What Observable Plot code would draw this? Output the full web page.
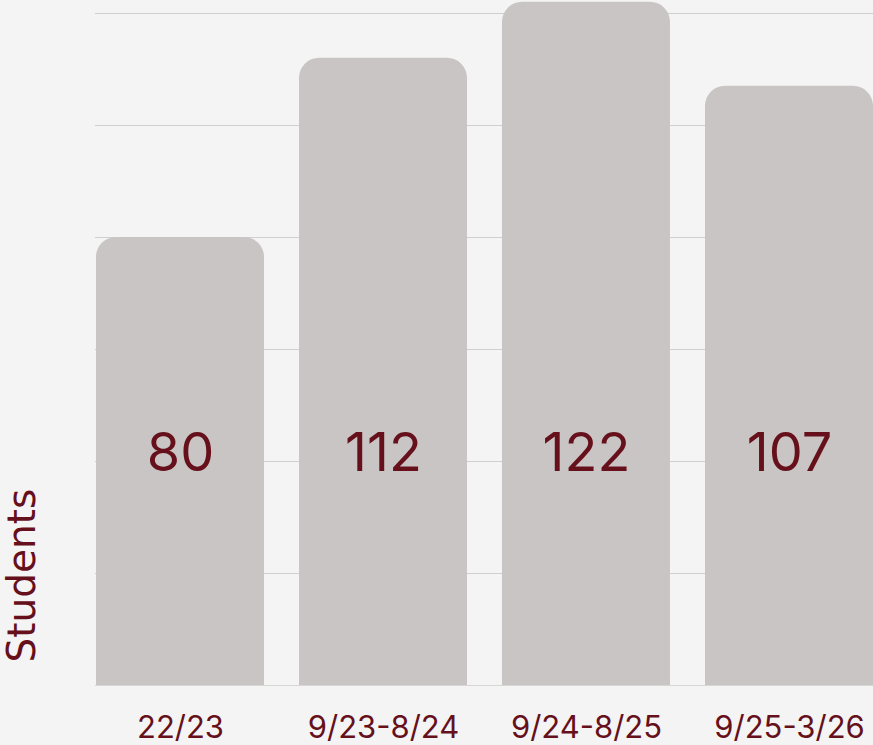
<!DOCTYPE html>
<html><head><meta charset="utf-8">
<script src="https://cdn.jsdelivr.net/npm/d3@7"></script>
<script src="https://cdn.jsdelivr.net/npm/@observablehq/plot@0.6"></script>
<style>
html,body{margin:0;padding:0;background:#f4f4f4;overflow:hidden;}
#chart{width:873px;height:745px;overflow:hidden;}
#chart svg{max-width:none !important;}
</style></head><body><div id="chart"></div>
<script>
const periods = ["22/23", "9/23-8/24", "9/24-8/25", "9/25-3/26"];
const students = [80, 112, 122, 107];
const yTicks = [0, 20, 40, 60, 80, 100, 120];
const data = periods.map((p, i) => ({period: p, students: students[i]}));
const ink = "#65101a";
const barFill = "#c9c5c4";
const font = "Inter, 'Open Sans', sans-serif";
const plot = Plot.plot({
  width: 880, height: 745,
  marginLeft: 95, marginRight: 6, marginTop: 13, marginBottom: 60,
  style: {background: "#f4f4f4", fontFamily: font, color: ink, overflow: "visible", maxWidth: "none"},
  x: {domain: periods, paddingInner: 0.17, paddingOuter: 0, label: null},
  y: {domain: [0, 120], label: null, axis: null},
  marks: [
    Plot.gridY(yTicks, {stroke: "#cfcfcf", strokeOpacity: 1}),
    Plot.barY(data, {x: "period", y: "students", fill: barFill, rx: 20}),
    Plot.barY(data, {x: "period", y: d => d.students / 2, fill: barFill}),
    Plot.ruleY([0], {stroke: "#d6d6d6"}),
    Plot.text(data, {x: "period", text: d => String(d.students), frameAnchor: "bottom", dy: -232, fontSize: 54, fill: ink, lineAnchor: "middle"}),
    Plot.axisX({tickSize: 0, tickPadding: 30, fontSize: 31, fill: ink, label: null}),
    Plot.text(["Students"], {text: d => d, frameAnchor: "bottom-left", dx: -73, dy: -23, rotate: -90, textAnchor: "start", lineAnchor: "middle", fontSize: 39, fontFamily: "'DejaVu Sans', sans-serif", fill: ink})
  ]
});
document.getElementById("chart").appendChild(plot);
</script></body></html>
